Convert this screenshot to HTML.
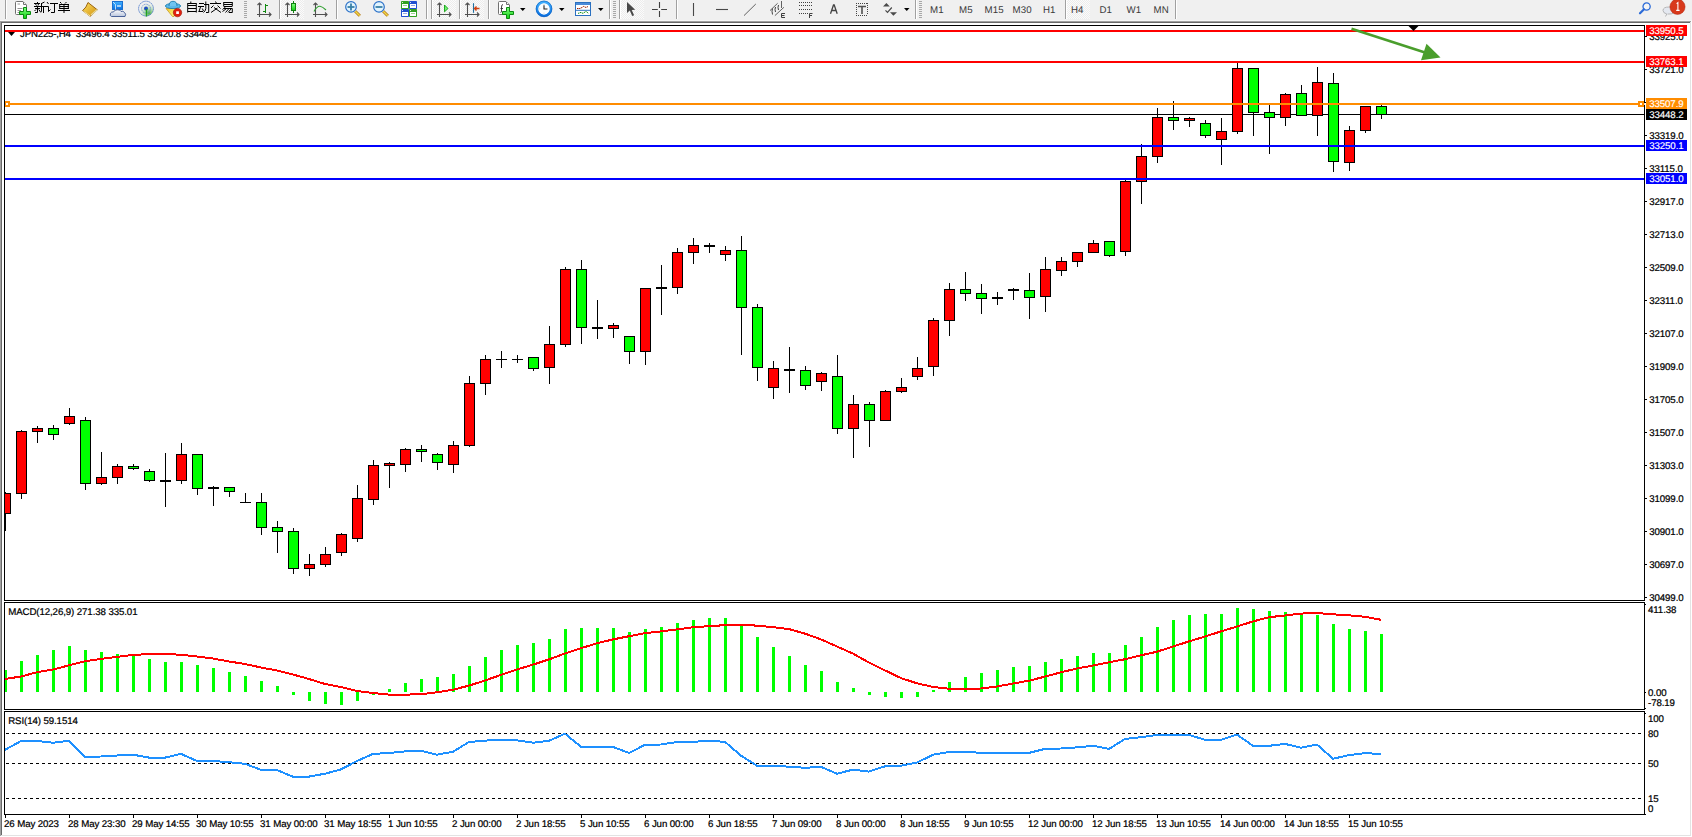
<!DOCTYPE html>
<html><head><meta charset="utf-8"><style>
html,body{margin:0;padding:0;background:#fff;}
body{width:1692px;height:837px;position:relative;overflow:hidden;font-family:"Liberation Sans",sans-serif;}
text{font-family:"Liberation Sans",sans-serif;}
svg text[fill="#000"]{stroke:#000;stroke-width:0.22px;}
svg text[fill="#fff"]{stroke:#fff;stroke-width:0.15px;}
</style></head><body>
<div style="position:absolute;left:0;top:0;width:1692px;height:20px;background:#f0f0f0"><div style="position:absolute;left:280px;top:0px;width:24px;height:19px;background:conic-gradient(#fbfbfb 25%,#ececec 0 50%,#fbfbfb 0 75%,#ececec 0) 0 0/2px 2px"></div><div style="position:absolute;left:432px;top:0px;width:24px;height:19px;background:conic-gradient(#fbfbfb 25%,#ececec 0 50%,#fbfbfb 0 75%,#ececec 0) 0 0/2px 2px"></div><div style="position:absolute;left:460px;top:0px;width:24px;height:19px;background:conic-gradient(#fbfbfb 25%,#ececec 0 50%,#fbfbfb 0 75%,#ececec 0) 0 0/2px 2px"></div><div style="position:absolute;left:620px;top:0px;width:24px;height:19px;background:conic-gradient(#fbfbfb 25%,#ececec 0 50%,#fbfbfb 0 75%,#ececec 0) 0 0/2px 2px"></div><div style="position:absolute;left:1066px;top:0px;width:24px;height:19px;background:conic-gradient(#fbfbfb 25%,#ececec 0 50%,#fbfbfb 0 75%,#ececec 0) 0 0/2px 2px"></div><div style="position:absolute;left:5px;top:0px;width:1px;height:19px;background:#a0a0a0;box-shadow:1px 0 0 #fff"></div><div style="position:absolute;left:244px;top:1px;width:3px;height:17px;background:repeating-linear-gradient(#a8a8a8 0 1px,transparent 1px 2px)"></div><div style="position:absolute;left:279px;top:0px;width:1px;height:19px;background:#a0a0a0;box-shadow:1px 0 0 #fff"></div><div style="position:absolute;left:336px;top:0px;width:1px;height:19px;background:#a0a0a0;box-shadow:1px 0 0 #fff"></div><div style="position:absolute;left:426px;top:0px;width:1px;height:19px;background:#a0a0a0;box-shadow:1px 0 0 #fff"></div><div style="position:absolute;left:431px;top:0px;width:1px;height:19px;background:#a0a0a0;box-shadow:1px 0 0 #fff"></div><div style="position:absolute;left:459px;top:0px;width:1px;height:19px;background:#a0a0a0;box-shadow:1px 0 0 #fff"></div><div style="position:absolute;left:488px;top:0px;width:1px;height:19px;background:#a0a0a0;box-shadow:1px 0 0 #fff"></div><div style="position:absolute;left:609px;top:0px;width:1px;height:19px;background:#a0a0a0;box-shadow:1px 0 0 #fff"></div><div style="position:absolute;left:613px;top:1px;width:3px;height:17px;background:repeating-linear-gradient(#a8a8a8 0 1px,transparent 1px 2px)"></div><div style="position:absolute;left:619px;top:0px;width:1px;height:19px;background:#a0a0a0;box-shadow:1px 0 0 #fff"></div><div style="position:absolute;left:676px;top:0px;width:1px;height:19px;background:#a0a0a0;box-shadow:1px 0 0 #fff"></div><div style="position:absolute;left:915px;top:0px;width:1px;height:19px;background:#a0a0a0;box-shadow:1px 0 0 #fff"></div><div style="position:absolute;left:919px;top:1px;width:3px;height:17px;background:repeating-linear-gradient(#a8a8a8 0 1px,transparent 1px 2px)"></div><div style="position:absolute;left:1065px;top:0px;width:1px;height:19px;background:#a0a0a0;box-shadow:1px 0 0 #fff"></div><div style="position:absolute;left:1175px;top:0px;width:1px;height:19px;background:#a0a0a0;box-shadow:1px 0 0 #fff"></div><svg width="1692" height="20" style="position:absolute;left:0;top:0" text-rendering="geometricPrecision"><defs><linearGradient id="gplus" x1="0" y1="0" x2="0" y2="1"><stop offset="0" stop-color="#80ff80"/><stop offset="1" stop-color="#10d010"/></linearGradient><linearGradient id="ggold" x1="0" y1="0" x2="1" y2="1"><stop offset="0" stop-color="#ffe060"/><stop offset="1" stop-color="#d09010"/></linearGradient><linearGradient id="gcloud" x1="0" y1="0" x2="0" y2="1"><stop offset="0" stop-color="#ffffff"/><stop offset="1" stop-color="#b8c4dc"/></linearGradient><linearGradient id="gblue" x1="0" y1="0" x2="0" y2="1"><stop offset="0" stop-color="#40b0ff"/><stop offset="1" stop-color="#0a70e0"/></linearGradient><linearGradient id="gcone" x1="0" y1="0" x2="1" y2="1"><stop offset="0" stop-color="#f0c830"/><stop offset="1" stop-color="#ffff90"/></linearGradient><radialGradient id="gsig" cx="0.7" cy="0.8" r="0.7"><stop offset="0" stop-color="#40b040"/><stop offset="1" stop-color="#e8f0e8" stop-opacity="0"/></radialGradient></defs><path d="M16.5 1.5 H23 L26.5 5 V13.5 Q26.5 14.5 25.5 14.5 H16.5 Q15.5 14.5 15.5 13.5 V2.5 Q15.5 1.5 16.5 1.5Z" fill="#fff" stroke="#707070"/><path d="M23.5 2 V4.5 H26" fill="#fff" stroke="#707070"/><path d="M17.5 4 H20 M17.5 8.5 H22.5 M17.5 10.5 H21 M17.5 12.5 H20" stroke="#8a8a8a" stroke-width="0.9"/><path d="M23.5 7.5 h3 v4 h4 v3 h-4 v4 h-3 v-4 h-4 v-3 h4 z" fill="url(#gplus)" stroke="#0a8a10"/><path d="M34 3.5H40M37.5 2V3M35.5 4L36.5 5.5M38.5 4L38 5.5M34 6.5H41M35 8.5H40M37.5 6.5V12.5H35M36 9.5L34.5 11M38.8 9.5L40.5 12M44.5 2L41.5 3.5M41.5 3V11L40.8 12.5M41 6.5H46M43.5 6.5V13M47 2L48.5 4M46 6.5H48.5V11.5M48.5 11.5L50.5 9.5M50 3.5H58M54.5 3.5V12.5H51M60 2L61.5 3.5M66.5 2L65 3.5M59.7 4V9M68.3 4V9M59.5 4.5H69M59.5 6.5H69M59.5 8.5H69M64 4V13M58 10.5H70" stroke="#000" stroke-width="1" fill="none"/><path d="M88 2.5 L97.3 9.8 L90.2 16.3 L82.6 10.6 Q86.5 7.5 88 2.5Z" fill="url(#ggold)" stroke="#9a6410" stroke-width="1"/><path d="M83.5 11.3 L90.3 16" stroke="#f8e8a0" stroke-width="1"/><path d="M91 15 L97 9.7" stroke="#e8dca0" stroke-width="1.2"/><rect x="112.5" y="1.5" width="10" height="8" fill="url(#gblue)" stroke="#1a70d0"/><path d="M113 2 L115.5 4.5 V10" stroke="#e0f4ff" stroke-width="0.8" fill="none"/><path d="M117 6 h4" stroke="#fff" stroke-width="1.2"/><path d="M111.5 16.5 Q109.5 16 110.5 13.2 Q111.5 11.5 113.5 12 Q114.5 9.5 117.5 9.8 Q120 9.5 121 11.5 Q123 10.5 124.5 12.5 Q126.5 14 125 16.5 Z" fill="url(#gcloud)" stroke="#3a5590" stroke-width="0.9"/><circle cx="146" cy="8.6" r="7.6" fill="url(#gsig)"/><circle cx="146" cy="8.6" r="7.4" fill="none" stroke="#4070c8" stroke-width="1" stroke-dasharray="1.2,0.8"/><circle cx="146" cy="8.6" r="4.4" fill="none" stroke="#6088d0" stroke-width="1" stroke-dasharray="1,0.8"/><circle cx="146" cy="8.6" r="2" fill="#2050c0"/><path d="M146.5 9 V16.5" stroke="#20a020" stroke-width="1.3"/><path d="M166 8.5 L176.5 8.5 L174 16.5 L172.5 16.5 Z" fill="url(#gcone)" stroke="#c89a20" stroke-width="0.8"/><ellipse cx="173" cy="6" rx="7.6" ry="2.6" fill="#5ab8ea" stroke="#1f7fb0" stroke-width="0.9"/><path d="M169 6 Q169 1.3 173 1.3 Q177 1.3 177 6" fill="#70c4f0" stroke="#1f7fb0" stroke-width="0.9"/><circle cx="177.5" cy="12.6" r="4.2" fill="#e02010" stroke="#a01000" stroke-width="0.6"/><rect x="176.2" y="11.3" width="2.7" height="2.7" fill="#fff"/><path d="M190.8 1.5V3M187.7 3V12.5M196.3 3V12.5M188 3.5H196M188 5.5H196M188 8.5H196M188 11.5H196M199 3.5H204M198 6.5H204M200.5 7L199 11.5M198.5 11.5H203M202.3 8.5L203.5 11M205.8 1.5V8.5Q205.5 11 203.5 12.5M204 4.5H209M208.7 4.5V12.5H206M215.5 1.5L216.3 3M210 3.5H221M213.5 5.5L211 8M217.5 5.5L220.5 8.5M217.5 8L211 12.5M214 7.5L221 12.5M223.7 2V6.5M232.3 2V6.5M224 2.5H232M224 4.5H232M224 6.5H232M225.5 7L222.5 9.5M224 8.5H232.3V12.5H229M226.5 8.5L222.5 11.5M229 8.5L225.5 12.5M231 9L228 12.5" stroke="#000" stroke-width="1" fill="none"/><path d="M259.5 3 V17 M257 14.5 H271 M257.5 5 L259.5 3 L261.5 5 M269 12.5 L271 14.5 L269 16.5" stroke="#505050" stroke-width="1.1" fill="none"/><path d="M287.5 3 V17 M285 14.5 H299 M285.5 5 L287.5 3 L289.5 5 M297 12.5 L299 14.5 L297 16.5" stroke="#505050" stroke-width="1.1" fill="none"/><path d="M315.5 3 V17 M313 14.5 H327 M313.5 5 L315.5 3 L317.5 5 M325 12.5 L327 14.5 L325 16.5" stroke="#505050" stroke-width="1.1" fill="none"/><path d="M439.5 3 V17 M437 14.5 H451 M437.5 5 L439.5 3 L441.5 5 M449 12.5 L451 14.5 L449 16.5" stroke="#505050" stroke-width="1.1" fill="none"/><path d="M467.5 3 V17 M465 14.5 H479 M465.5 5 L467.5 3 L469.5 5 M477 12.5 L479 14.5 L477 16.5" stroke="#505050" stroke-width="1.1" fill="none"/><path d="M265.5 4 V13 M265.5 5.5 H268 M263 11.5 H265.5" stroke="#108a10" stroke-width="1" fill="none"/><path d="M293.5 1 V13" stroke="#108010"/><rect x="291.5" y="3.5" width="4" height="7" fill="url(#gplus)" stroke="#108010"/><path d="M314 11.5 Q317 6 320 6.3 Q322.5 6.6 326 10" stroke="#30a030" stroke-width="1.1" fill="none"/><path d="M444.5 5 L448 8.5 L444.5 11.8 Z" fill="#70f070" stroke="#10a010" stroke-width="0.9"/><path d="M473.5 3.2 V12.8" stroke="#2070a0" stroke-width="1.1"/><path d="M474.5 8.5 H479.5 M476.5 6.5 L474.5 8.5 L476.5 10.5" stroke="#d04010" stroke-width="1.4" fill="none"/><path d="M355.2 11.2 L359.8 15.8" stroke="#b07010" stroke-width="3"/><path d="M355.2 11.2 L359.8 15.8" stroke="#f0d848" stroke-width="1.6"/><circle cx="351" cy="6.9" r="5.3" fill="#e2f4fd" stroke="#2a70c8" stroke-width="1.2"/><path d="M347.5 7 h7" stroke="#3a80a8" stroke-width="1.8"/><path d="M351 3.5 v7" stroke="#3a80a8" stroke-width="1.8"/><path d="M383.2 11.2 L387.8 15.8" stroke="#b07010" stroke-width="3"/><path d="M383.2 11.2 L387.8 15.8" stroke="#f0d848" stroke-width="1.6"/><circle cx="379" cy="6.9" r="5.3" fill="#e2f4fd" stroke="#2a70c8" stroke-width="1.2"/><path d="M375.5 7 h7" stroke="#3a80a8" stroke-width="1.8"/><rect x="401" y="1" width="8" height="8" rx="0.8" fill="#30a020"/><rect x="402" y="4" width="6" height="4" fill="#fff"/><path d="M403 5.5 h4" stroke="#30a020" stroke-width="0.8" opacity="0.6"/><rect x="402" y="2" width="1" height="1" fill="#fff" opacity="0.8"/><rect x="409" y="1" width="8" height="8" rx="0.8" fill="#2050d0"/><rect x="410" y="4" width="6" height="4" fill="#fff"/><path d="M411 5.5 h4" stroke="#2050d0" stroke-width="0.8" opacity="0.6"/><rect x="410" y="2" width="1" height="1" fill="#fff" opacity="0.8"/><rect x="401" y="9" width="8" height="8" rx="0.8" fill="#2050d0"/><rect x="402" y="12" width="6" height="4" fill="#fff"/><path d="M403 13.5 h4" stroke="#2050d0" stroke-width="0.8" opacity="0.6"/><rect x="402" y="10" width="1" height="1" fill="#fff" opacity="0.8"/><rect x="409" y="9" width="8" height="8" rx="0.8" fill="#30a020"/><rect x="410" y="12" width="6" height="4" fill="#fff"/><path d="M411 13.5 h4" stroke="#30a020" stroke-width="0.8" opacity="0.6"/><rect x="410" y="10" width="1" height="1" fill="#fff" opacity="0.8"/><path d="M499.5 1.5 H506 L509.5 5 V13.5 Q509.5 14.5 508.5 14.5 H499.5 Q498.5 14.5 498.5 13.5 V2.5 Q498.5 1.5 499.5 1.5Z" fill="#fff" stroke="#707070"/><path d="M506.5 2 V4.5 H509" fill="#fff" stroke="#707070"/><path d="M503 4.5 Q501.5 4.5 501.5 7 V11 Q501.5 12.5 500.5 12.5 M500.5 8.5 H503" stroke="#303030" fill="none" stroke-width="0.9"/><path d="M506.5 7.5 h3 v4 h4 v3 h-4 v4 h-3 v-4 h-4 v-3 h4 z" fill="url(#gplus)" stroke="#0a8a10"/><path d="M520 8 h5.5 l-2.75 3z" fill="#000"/><path d="M559 8 h5.5 l-2.75 3z" fill="#000"/><path d="M598 8 h5.5 l-2.75 3z" fill="#000"/><path d="M904 8 h5.5 l-2.75 3z" fill="#000"/><circle cx="544" cy="8.9" r="6.9" fill="none" stroke="url(#gblue)" stroke-width="2.6"/><circle cx="544" cy="8.9" r="7.9" fill="none" stroke="#0a5ab8" stroke-width="0.6"/><circle cx="544" cy="8.9" r="5.5" fill="#fafdff"/><path d="M544 5.3 V9 H547.3" stroke="#202020" stroke-width="1.1" fill="none"/><path d="M544 4v0.6M548 8.9h-0.6M544 13.4v-0.6M539.5 8.9h0.6" stroke="#888" stroke-width="0.7"/><rect x="575.5" y="2.5" width="15" height="13" fill="#fff" stroke="#2a70c0"/><rect x="576" y="3" width="14" height="2" fill="#4a8ad8"/><path d="M576 10.3 h14" stroke="#2a70c0"/><path d="M577 8.5 L580 8.5 L582.5 7.2 L583.7 6.4 L586 7.5 L588 6.5" stroke="#a02000" stroke-width="1" fill="none" stroke-dasharray="1.5,0.6"/><path d="M578 13.4 L581 12.4 L583 13.4 L586 11.3 L588.5 13.4" stroke="#109010" stroke-width="1" fill="none" stroke-dasharray="1.5,0.6"/><path d="M627 2 L627 13 L629.8 10.6 L632.2 16 L634.1 15.2 L631.7 10 L635.2 9.7 Z" fill="#484848"/><path d="M652 9.5 H657.8 M661.2 9.5 H667 M659.5 2 V8 M659.5 11 V17" stroke="#404040" stroke-width="1.1"/><path d="M693.5 3 V16" stroke="#484848" stroke-width="1.1"/><path d="M716 9.5 H728" stroke="#484848" stroke-width="1.1"/><path d="M744 15.6 L755.8 4" stroke="#505050" stroke-width="0.9"/><path d="M770 10.6 L777.6 3.3 M774.9 15.6 L783.9 7.3 M781.5 1 V8" stroke="#505050" stroke-width="0.9" fill="none"/><path d="M772.5 8.5 Q771.5 11 772.5 14.5 M775.5 7 Q774.5 9.5 775.5 12 M778.5 5 Q777.5 7.5 778.5 10" stroke="#404040" stroke-width="1" fill="none"/><path d="M785 13.5 H781.5 V17.5 H785 M781.5 15.5 H784.5" stroke="#404040" stroke-width="1" fill="none"/><rect x="799" y="2.0" width="1" height="1" fill="#404040"/><rect x="801" y="2.0" width="1" height="1" fill="#404040"/><rect x="803" y="2.0" width="1" height="1" fill="#404040"/><rect x="805" y="2.0" width="1" height="1" fill="#404040"/><rect x="807" y="2.0" width="1" height="1" fill="#404040"/><rect x="809" y="2.0" width="1" height="1" fill="#404040"/><rect x="811" y="2.0" width="1" height="1" fill="#404040"/><rect x="799" y="5.0" width="1" height="1" fill="#404040"/><rect x="801" y="5.0" width="1" height="1" fill="#404040"/><rect x="803" y="5.0" width="1" height="1" fill="#404040"/><rect x="805" y="5.0" width="1" height="1" fill="#404040"/><rect x="807" y="5.0" width="1" height="1" fill="#404040"/><rect x="809" y="5.0" width="1" height="1" fill="#404040"/><rect x="811" y="5.0" width="1" height="1" fill="#404040"/><rect x="799" y="9.0" width="1" height="1" fill="#404040"/><rect x="801" y="9.0" width="1" height="1" fill="#404040"/><rect x="803" y="9.0" width="1" height="1" fill="#404040"/><rect x="805" y="9.0" width="1" height="1" fill="#404040"/><rect x="807" y="9.0" width="1" height="1" fill="#404040"/><rect x="809" y="9.0" width="1" height="1" fill="#404040"/><rect x="811" y="9.0" width="1" height="1" fill="#404040"/><rect x="799" y="13.0" width="1" height="1" fill="#404040"/><rect x="801" y="13.0" width="1" height="1" fill="#404040"/><rect x="803" y="13.0" width="1" height="1" fill="#404040"/><rect x="805" y="13.0" width="1" height="1" fill="#404040"/><rect x="807" y="13.0" width="1" height="1" fill="#404040"/><path d="M812.5 13.5 H809.5 V18 M809.5 15.5 H812" stroke="#404040" stroke-width="1" fill="none"/><path d="M830.5 13.8 L833.5 5 L834.2 5 L837.2 13.8 M831.8 10.5 H836" stroke="#444" stroke-width="1.3" fill="none"/><rect x="856" y="3" width="1" height="1" fill="#444"/><rect x="856" y="15" width="1" height="1" fill="#444"/><rect x="856" y="3" width="1" height="1" fill="#444"/><rect x="867" y="3" width="1" height="1" fill="#444"/><rect x="858" y="3" width="1" height="1" fill="#444"/><rect x="858" y="15" width="1" height="1" fill="#444"/><rect x="856" y="5" width="1" height="1" fill="#444"/><rect x="867" y="5" width="1" height="1" fill="#444"/><rect x="860" y="3" width="1" height="1" fill="#444"/><rect x="860" y="15" width="1" height="1" fill="#444"/><rect x="856" y="7" width="1" height="1" fill="#444"/><rect x="867" y="7" width="1" height="1" fill="#444"/><rect x="862" y="3" width="1" height="1" fill="#444"/><rect x="862" y="15" width="1" height="1" fill="#444"/><rect x="856" y="9" width="1" height="1" fill="#444"/><rect x="867" y="9" width="1" height="1" fill="#444"/><rect x="864" y="3" width="1" height="1" fill="#444"/><rect x="864" y="15" width="1" height="1" fill="#444"/><rect x="856" y="11" width="1" height="1" fill="#444"/><rect x="867" y="11" width="1" height="1" fill="#444"/><rect x="866" y="3" width="1" height="1" fill="#444"/><rect x="866" y="15" width="1" height="1" fill="#444"/><rect x="856" y="13" width="1" height="1" fill="#444"/><rect x="867" y="13" width="1" height="1" fill="#444"/><path d="M858 6.5 H866 M862 6.5 V14" stroke="#505050" stroke-width="1.6" fill="none"/><path d="M883 6.5 L886.4 3.1 L889.8 6.5 Z M890 12.3 L897 12.3 L893.4 15.8 Z" fill="#4a4a4a"/><path d="M885.5 10.3 L887.5 12.3 L891.8 7.5" stroke="#4a4a4a" stroke-width="1.2" fill="none"/><text x="930" y="13" font-size="9.7" letter-spacing="0.1" fill="#3a3a3a" font-family="'Liberation Sans', sans-serif">M1</text><text x="959" y="13" font-size="9.7" letter-spacing="0.1" fill="#3a3a3a" font-family="'Liberation Sans', sans-serif">M5</text><text x="984.5" y="13" font-size="9.7" letter-spacing="0.1" fill="#3a3a3a" font-family="'Liberation Sans', sans-serif">M15</text><text x="1012.5" y="13" font-size="9.7" letter-spacing="0.1" fill="#3a3a3a" font-family="'Liberation Sans', sans-serif">M30</text><text x="1043" y="13" font-size="9.7" letter-spacing="0.1" fill="#3a3a3a" font-family="'Liberation Sans', sans-serif">H1</text><text x="1071" y="13" font-size="9.7" letter-spacing="0.1" fill="#3a3a3a" font-family="'Liberation Sans', sans-serif">H4</text><text x="1099.5" y="13" font-size="9.7" letter-spacing="0.1" fill="#3a3a3a" font-family="'Liberation Sans', sans-serif">D1</text><text x="1126.5" y="13" font-size="9.7" letter-spacing="0.1" fill="#3a3a3a" font-family="'Liberation Sans', sans-serif">W1</text><text x="1153.5" y="13" font-size="9.7" letter-spacing="0.1" fill="#3a3a3a" font-family="'Liberation Sans', sans-serif">MN</text><circle cx="1646.6" cy="6.5" r="3.6" fill="#fff" fill-opacity="0.3" stroke="#2a6ad8" stroke-width="1.3"/><path d="M1644 9.3 l-4 4" stroke="#2a6ad8" stroke-width="2.2" stroke-linecap="round"/><path d="M1665.5 16.5 L1666.8 14 Q1663 13 1663 10.5 Q1663 7 1669 7 Q1675 7 1675 10.5 Q1675 14 1669 14 L1667.5 14" fill="#e4e8f0" stroke="#a8a8a8" stroke-width="0.8"/><circle cx="1677.5" cy="6.8" r="7.6" fill="#d8391c"/><circle cx="1677.5" cy="6.8" r="7.6" fill="none" stroke="#b02810" stroke-width="0.5"/><path d="M1676.6 3.6 L1677.9 2.6 V10.4 M1676.2 10.4 H1679.6" stroke="#fff" stroke-width="1.1" fill="none"/></svg></div>
<div style="position:absolute;left:0;top:20px;width:1692px;height:1px;background:#f7f7f7"></div><div style="position:absolute;left:0;top:21px;width:1691px;height:1px;background:#a0a0a0"></div><div style="position:absolute;left:1px;top:22px;width:1689px;height:1px;background:#696969"></div><div style="position:absolute;left:0;top:21px;width:1px;height:815px;background:#a0a0a0"></div><div style="position:absolute;left:1px;top:22px;width:1px;height:813px;background:#696969"></div><div style="position:absolute;left:1690px;top:22px;width:1px;height:814px;background:#e3e3e3"></div><div style="position:absolute;left:1px;top:835px;width:1690px;height:1px;background:#e3e3e3"></div><div style="position:absolute;left:2px;top:23px;width:1688px;height:812px;background:#fff"></div>
<svg width="1692" height="837" viewBox="0 0 1692 837" text-rendering="geometricPrecision" style="position:absolute;left:0;top:0"><defs><clipPath id="cm"><rect x="5" y="26" width="1639" height="574"/></clipPath><clipPath id="cmacd"><rect x="5" y="603" width="1639" height="106"/></clipPath><clipPath id="crsi"><rect x="5" y="712" width="1639" height="102"/></clipPath></defs><polygon points="8,32 15,32 11.5,36" fill="#000"/><text x="20" y="37" font-size="9.7" letter-spacing="-0.2" font-family="'Liberation Sans', sans-serif" fill="#000" xml:space="preserve">JPN225-,H4  33496.4 33511.5 33420.8 33448.2</text><g clip-path="url(#cm)" shape-rendering="crispEdges"><rect x="5" y="30" width="1639" height="2" fill="#ff0000"/><rect x="5" y="61" width="1639" height="2" fill="#ff0000"/><rect x="5" y="114" width="1639" height="1" fill="#000"/><rect x="5" y="492" width="1" height="39" fill="#000"/><rect x="0" y="493" width="11" height="21" fill="#000"/><rect x="1" y="494" width="9" height="19" fill="#ff0000"/><rect x="21" y="430" width="1" height="69" fill="#000"/><rect x="16" y="431" width="11" height="63" fill="#000"/><rect x="17" y="432" width="9" height="61" fill="#ff0000"/><rect x="37" y="426" width="1" height="17" fill="#000"/><rect x="32" y="428" width="11" height="4" fill="#000"/><rect x="33" y="429" width="9" height="2" fill="#ff0000"/><rect x="53" y="425" width="1" height="15" fill="#000"/><rect x="48" y="428" width="11" height="7" fill="#000"/><rect x="49" y="429" width="9" height="5" fill="#00ff00"/><rect x="69" y="408" width="1" height="17" fill="#000"/><rect x="64" y="416" width="11" height="8" fill="#000"/><rect x="65" y="417" width="9" height="6" fill="#ff0000"/><rect x="85" y="417" width="1" height="73" fill="#000"/><rect x="80" y="420" width="11" height="64" fill="#000"/><rect x="81" y="421" width="9" height="62" fill="#00ff00"/><rect x="101" y="452" width="1" height="33" fill="#000"/><rect x="96" y="477" width="11" height="7" fill="#000"/><rect x="97" y="478" width="9" height="5" fill="#ff0000"/><rect x="117" y="464" width="1" height="20" fill="#000"/><rect x="112" y="466" width="11" height="12" fill="#000"/><rect x="113" y="467" width="9" height="10" fill="#ff0000"/><rect x="133" y="464" width="1" height="6" fill="#000"/><rect x="128" y="466" width="11" height="3" fill="#000"/><rect x="129" y="467" width="9" height="1" fill="#00ff00"/><rect x="149" y="469" width="1" height="13" fill="#000"/><rect x="144" y="471" width="11" height="10" fill="#000"/><rect x="145" y="472" width="9" height="8" fill="#00ff00"/><rect x="165" y="453" width="1" height="54" fill="#000"/><rect x="160" y="480" width="11" height="2" fill="#000"/><rect x="181" y="443" width="1" height="41" fill="#000"/><rect x="176" y="454" width="11" height="27" fill="#000"/><rect x="177" y="455" width="9" height="25" fill="#ff0000"/><rect x="197" y="454" width="1" height="41" fill="#000"/><rect x="192" y="454" width="11" height="35" fill="#000"/><rect x="193" y="455" width="9" height="33" fill="#00ff00"/><rect x="213" y="486" width="1" height="20" fill="#000"/><rect x="208" y="487" width="11" height="2" fill="#000"/><rect x="229" y="487" width="1" height="10" fill="#000"/><rect x="224" y="487" width="11" height="5" fill="#000"/><rect x="225" y="488" width="9" height="3" fill="#00ff00"/><rect x="245" y="493" width="1" height="10" fill="#000"/><rect x="240" y="502" width="11" height="1" fill="#000"/><rect x="261" y="493" width="1" height="42" fill="#000"/><rect x="256" y="502" width="11" height="26" fill="#000"/><rect x="257" y="503" width="9" height="24" fill="#00ff00"/><rect x="277" y="521" width="1" height="32" fill="#000"/><rect x="272" y="527" width="11" height="5" fill="#000"/><rect x="273" y="528" width="9" height="3" fill="#00ff00"/><rect x="293" y="528" width="1" height="46" fill="#000"/><rect x="288" y="531" width="11" height="38" fill="#000"/><rect x="289" y="532" width="9" height="36" fill="#00ff00"/><rect x="309" y="554" width="1" height="22" fill="#000"/><rect x="304" y="564" width="11" height="5" fill="#000"/><rect x="305" y="565" width="9" height="3" fill="#ff0000"/><rect x="325" y="547" width="1" height="20" fill="#000"/><rect x="320" y="554" width="11" height="11" fill="#000"/><rect x="321" y="555" width="9" height="9" fill="#ff0000"/><rect x="341" y="533" width="1" height="23" fill="#000"/><rect x="336" y="534" width="11" height="19" fill="#000"/><rect x="337" y="535" width="9" height="17" fill="#ff0000"/><rect x="357" y="485" width="1" height="57" fill="#000"/><rect x="352" y="498" width="11" height="41" fill="#000"/><rect x="353" y="499" width="9" height="39" fill="#ff0000"/><rect x="373" y="460" width="1" height="45" fill="#000"/><rect x="368" y="465" width="11" height="35" fill="#000"/><rect x="369" y="466" width="9" height="33" fill="#ff0000"/><rect x="389" y="462" width="1" height="26" fill="#000"/><rect x="384" y="463" width="11" height="3" fill="#000"/><rect x="385" y="464" width="9" height="1" fill="#ff0000"/><rect x="405" y="448" width="1" height="24" fill="#000"/><rect x="400" y="449" width="11" height="16" fill="#000"/><rect x="401" y="450" width="9" height="14" fill="#ff0000"/><rect x="421" y="445" width="1" height="17" fill="#000"/><rect x="416" y="449" width="11" height="3" fill="#000"/><rect x="417" y="450" width="9" height="1" fill="#00ff00"/><rect x="437" y="453" width="1" height="17" fill="#000"/><rect x="432" y="454" width="11" height="9" fill="#000"/><rect x="433" y="455" width="9" height="7" fill="#00ff00"/><rect x="453" y="441" width="1" height="32" fill="#000"/><rect x="448" y="445" width="11" height="20" fill="#000"/><rect x="449" y="446" width="9" height="18" fill="#ff0000"/><rect x="469" y="376" width="1" height="71" fill="#000"/><rect x="464" y="383" width="11" height="63" fill="#000"/><rect x="465" y="384" width="9" height="61" fill="#ff0000"/><rect x="485" y="355" width="1" height="40" fill="#000"/><rect x="480" y="359" width="11" height="25" fill="#000"/><rect x="481" y="360" width="9" height="23" fill="#ff0000"/><rect x="501" y="351" width="1" height="17" fill="#000"/><rect x="496" y="359" width="11" height="1" fill="#000"/><rect x="517" y="355" width="1" height="8" fill="#000"/><rect x="512" y="359" width="11" height="1" fill="#000"/><rect x="533" y="357" width="1" height="14" fill="#000"/><rect x="528" y="357" width="11" height="12" fill="#000"/><rect x="529" y="358" width="9" height="10" fill="#00ff00"/><rect x="549" y="326" width="1" height="58" fill="#000"/><rect x="544" y="344" width="11" height="24" fill="#000"/><rect x="545" y="345" width="9" height="22" fill="#ff0000"/><rect x="565" y="267" width="1" height="80" fill="#000"/><rect x="560" y="269" width="11" height="76" fill="#000"/><rect x="561" y="270" width="9" height="74" fill="#ff0000"/><rect x="581" y="260" width="1" height="84" fill="#000"/><rect x="576" y="269" width="11" height="59" fill="#000"/><rect x="577" y="270" width="9" height="57" fill="#00ff00"/><rect x="597" y="300" width="1" height="39" fill="#000"/><rect x="592" y="327" width="11" height="2" fill="#000"/><rect x="613" y="323" width="1" height="15" fill="#000"/><rect x="608" y="325" width="11" height="4" fill="#000"/><rect x="609" y="326" width="9" height="2" fill="#ff0000"/><rect x="629" y="336" width="1" height="28" fill="#000"/><rect x="624" y="336" width="11" height="16" fill="#000"/><rect x="625" y="337" width="9" height="14" fill="#00ff00"/><rect x="645" y="288" width="1" height="77" fill="#000"/><rect x="640" y="288" width="11" height="64" fill="#000"/><rect x="641" y="289" width="9" height="62" fill="#ff0000"/><rect x="661" y="265" width="1" height="50" fill="#000"/><rect x="656" y="287" width="11" height="2" fill="#000"/><rect x="677" y="248" width="1" height="46" fill="#000"/><rect x="672" y="252" width="11" height="36" fill="#000"/><rect x="673" y="253" width="9" height="34" fill="#ff0000"/><rect x="693" y="238" width="1" height="26" fill="#000"/><rect x="688" y="245" width="11" height="8" fill="#000"/><rect x="689" y="246" width="9" height="6" fill="#ff0000"/><rect x="709" y="243" width="1" height="10" fill="#000"/><rect x="704" y="245" width="11" height="2" fill="#000"/><rect x="725" y="246" width="1" height="15" fill="#000"/><rect x="720" y="250" width="11" height="5" fill="#000"/><rect x="721" y="251" width="9" height="3" fill="#ff0000"/><rect x="741" y="236" width="1" height="119" fill="#000"/><rect x="736" y="250" width="11" height="58" fill="#000"/><rect x="737" y="251" width="9" height="56" fill="#00ff00"/><rect x="757" y="304" width="1" height="77" fill="#000"/><rect x="752" y="307" width="11" height="61" fill="#000"/><rect x="753" y="308" width="9" height="59" fill="#00ff00"/><rect x="773" y="361" width="1" height="38" fill="#000"/><rect x="768" y="368" width="11" height="20" fill="#000"/><rect x="769" y="369" width="9" height="18" fill="#ff0000"/><rect x="789" y="347" width="1" height="46" fill="#000"/><rect x="784" y="369" width="11" height="2" fill="#000"/><rect x="805" y="366" width="1" height="24" fill="#000"/><rect x="800" y="370" width="11" height="16" fill="#000"/><rect x="801" y="371" width="9" height="14" fill="#00ff00"/><rect x="821" y="372" width="1" height="19" fill="#000"/><rect x="816" y="373" width="11" height="9" fill="#000"/><rect x="817" y="374" width="9" height="7" fill="#ff0000"/><rect x="837" y="355" width="1" height="79" fill="#000"/><rect x="832" y="376" width="11" height="53" fill="#000"/><rect x="833" y="377" width="9" height="51" fill="#00ff00"/><rect x="853" y="395" width="1" height="63" fill="#000"/><rect x="848" y="404" width="11" height="25" fill="#000"/><rect x="849" y="405" width="9" height="23" fill="#ff0000"/><rect x="869" y="402" width="1" height="45" fill="#000"/><rect x="864" y="404" width="11" height="17" fill="#000"/><rect x="865" y="405" width="9" height="15" fill="#00ff00"/><rect x="885" y="390" width="1" height="31" fill="#000"/><rect x="880" y="391" width="11" height="30" fill="#000"/><rect x="881" y="392" width="9" height="28" fill="#ff0000"/><rect x="901" y="378" width="1" height="15" fill="#000"/><rect x="896" y="387" width="11" height="5" fill="#000"/><rect x="897" y="388" width="9" height="3" fill="#ff0000"/><rect x="917" y="357" width="1" height="23" fill="#000"/><rect x="912" y="368" width="11" height="9" fill="#000"/><rect x="913" y="369" width="9" height="7" fill="#ff0000"/><rect x="933" y="318" width="1" height="58" fill="#000"/><rect x="928" y="320" width="11" height="47" fill="#000"/><rect x="929" y="321" width="9" height="45" fill="#ff0000"/><rect x="949" y="283" width="1" height="53" fill="#000"/><rect x="944" y="289" width="11" height="32" fill="#000"/><rect x="945" y="290" width="9" height="30" fill="#ff0000"/><rect x="965" y="272" width="1" height="29" fill="#000"/><rect x="960" y="289" width="11" height="5" fill="#000"/><rect x="961" y="290" width="9" height="3" fill="#00ff00"/><rect x="981" y="284" width="1" height="30" fill="#000"/><rect x="976" y="293" width="11" height="6" fill="#000"/><rect x="977" y="294" width="9" height="4" fill="#00ff00"/><rect x="997" y="292" width="1" height="13" fill="#000"/><rect x="992" y="297" width="11" height="2" fill="#000"/><rect x="1013" y="288" width="1" height="12" fill="#000"/><rect x="1008" y="289" width="11" height="2" fill="#000"/><rect x="1029" y="273" width="1" height="46" fill="#000"/><rect x="1024" y="290" width="11" height="8" fill="#000"/><rect x="1025" y="291" width="9" height="6" fill="#00ff00"/><rect x="1045" y="257" width="1" height="55" fill="#000"/><rect x="1040" y="269" width="11" height="28" fill="#000"/><rect x="1041" y="270" width="9" height="26" fill="#ff0000"/><rect x="1061" y="257" width="1" height="19" fill="#000"/><rect x="1056" y="261" width="11" height="10" fill="#000"/><rect x="1057" y="262" width="9" height="8" fill="#ff0000"/><rect x="1077" y="252" width="1" height="15" fill="#000"/><rect x="1072" y="252" width="11" height="10" fill="#000"/><rect x="1073" y="253" width="9" height="8" fill="#ff0000"/><rect x="1093" y="240" width="1" height="13" fill="#000"/><rect x="1088" y="243" width="11" height="10" fill="#000"/><rect x="1089" y="244" width="9" height="8" fill="#ff0000"/><rect x="1109" y="241" width="1" height="16" fill="#000"/><rect x="1104" y="241" width="11" height="15" fill="#000"/><rect x="1105" y="242" width="9" height="13" fill="#00ff00"/><rect x="1125" y="180" width="1" height="76" fill="#000"/><rect x="1120" y="181" width="11" height="71" fill="#000"/><rect x="1121" y="182" width="9" height="69" fill="#ff0000"/><rect x="1141" y="144" width="1" height="60" fill="#000"/><rect x="1136" y="156" width="11" height="26" fill="#000"/><rect x="1137" y="157" width="9" height="24" fill="#ff0000"/><rect x="1157" y="108" width="1" height="55" fill="#000"/><rect x="1152" y="117" width="11" height="40" fill="#000"/><rect x="1153" y="118" width="9" height="38" fill="#ff0000"/><rect x="1173" y="101" width="1" height="29" fill="#000"/><rect x="1168" y="117" width="11" height="4" fill="#000"/><rect x="1169" y="118" width="9" height="2" fill="#00ff00"/><rect x="1189" y="117" width="1" height="10" fill="#000"/><rect x="1184" y="118" width="11" height="3" fill="#000"/><rect x="1185" y="119" width="9" height="1" fill="#ff0000"/><rect x="1205" y="120" width="1" height="18" fill="#000"/><rect x="1200" y="123" width="11" height="13" fill="#000"/><rect x="1201" y="124" width="9" height="11" fill="#00ff00"/><rect x="1221" y="118" width="1" height="47" fill="#000"/><rect x="1216" y="131" width="11" height="9" fill="#000"/><rect x="1217" y="132" width="9" height="7" fill="#ff0000"/><rect x="1237" y="63" width="1" height="71" fill="#000"/><rect x="1232" y="68" width="11" height="64" fill="#000"/><rect x="1233" y="69" width="9" height="62" fill="#ff0000"/><rect x="1253" y="68" width="1" height="68" fill="#000"/><rect x="1248" y="68" width="11" height="45" fill="#000"/><rect x="1249" y="69" width="9" height="43" fill="#00ff00"/><rect x="1269" y="105" width="1" height="49" fill="#000"/><rect x="1264" y="112" width="11" height="6" fill="#000"/><rect x="1265" y="113" width="9" height="4" fill="#00ff00"/><rect x="1285" y="93" width="1" height="33" fill="#000"/><rect x="1280" y="94" width="11" height="24" fill="#000"/><rect x="1281" y="95" width="9" height="22" fill="#ff0000"/><rect x="1301" y="85" width="1" height="31" fill="#000"/><rect x="1296" y="93" width="11" height="23" fill="#000"/><rect x="1297" y="94" width="9" height="21" fill="#00ff00"/><rect x="1317" y="67" width="1" height="69" fill="#000"/><rect x="1312" y="82" width="11" height="34" fill="#000"/><rect x="1313" y="83" width="9" height="32" fill="#ff0000"/><rect x="1333" y="73" width="1" height="99" fill="#000"/><rect x="1328" y="83" width="11" height="79" fill="#000"/><rect x="1329" y="84" width="9" height="77" fill="#00ff00"/><rect x="1349" y="126" width="1" height="45" fill="#000"/><rect x="1344" y="130" width="11" height="33" fill="#000"/><rect x="1345" y="131" width="9" height="31" fill="#ff0000"/><rect x="1365" y="106" width="1" height="27" fill="#000"/><rect x="1360" y="106" width="11" height="25" fill="#000"/><rect x="1361" y="107" width="9" height="23" fill="#ff0000"/><rect x="1381" y="104" width="1" height="15" fill="#000"/><rect x="1376" y="106" width="11" height="9" fill="#000"/><rect x="1377" y="107" width="9" height="7" fill="#00ff00"/><rect x="5" y="103" width="1639" height="2" fill="#ff8c00"/><rect x="5" y="145" width="1639" height="2" fill="#0000ff"/><rect x="5" y="178" width="1639" height="2" fill="#0000ff"/><rect x="4" y="101" width="6" height="6" fill="#ff8c00"/><rect x="6" y="103" width="2" height="2" fill="#fff"/><rect x="1638" y="101" width="6" height="6" fill="#ff8c00"/><rect x="1640" y="103" width="2" height="2" fill="#fff"/></g><polygon points="1408.5,26 1418.5,26 1413.5,31" fill="#000"/><line x1="1351.5" y1="28.8" x2="1425" y2="52.5" stroke="#4a9e2c" stroke-width="2.6"/><polygon points="1426.5,43.7 1440.5,57.4 1421,60.3" fill="#4a9e2c"/><g clip-path="url(#cmacd)" shape-rendering="crispEdges"><rect x="4" y="670" width="3" height="22" fill="#00ff00"/><rect x="20" y="661" width="3" height="31" fill="#00ff00"/><rect x="36" y="655" width="3" height="37" fill="#00ff00"/><rect x="52" y="650" width="3" height="42" fill="#00ff00"/><rect x="68" y="646" width="3" height="46" fill="#00ff00"/><rect x="84" y="650" width="3" height="42" fill="#00ff00"/><rect x="100" y="652" width="3" height="40" fill="#00ff00"/><rect x="116" y="654" width="3" height="38" fill="#00ff00"/><rect x="132" y="656" width="3" height="36" fill="#00ff00"/><rect x="148" y="659" width="3" height="33" fill="#00ff00"/><rect x="164" y="662" width="3" height="30" fill="#00ff00"/><rect x="180" y="662" width="3" height="30" fill="#00ff00"/><rect x="196" y="665" width="3" height="27" fill="#00ff00"/><rect x="212" y="668" width="3" height="24" fill="#00ff00"/><rect x="228" y="672" width="3" height="20" fill="#00ff00"/><rect x="244" y="676" width="3" height="16" fill="#00ff00"/><rect x="260" y="681" width="3" height="11" fill="#00ff00"/><rect x="276" y="686" width="3" height="6" fill="#00ff00"/><rect x="292" y="692" width="3" height="3" fill="#00ff00"/><rect x="308" y="692" width="3" height="9" fill="#00ff00"/><rect x="324" y="692" width="3" height="12" fill="#00ff00"/><rect x="340" y="692" width="3" height="13" fill="#00ff00"/><rect x="356" y="692" width="3" height="9" fill="#00ff00"/><rect x="372" y="692" width="3" height="3" fill="#00ff00"/><rect x="388" y="689" width="3" height="3" fill="#00ff00"/><rect x="404" y="683" width="3" height="9" fill="#00ff00"/><rect x="420" y="679" width="3" height="13" fill="#00ff00"/><rect x="436" y="677" width="3" height="15" fill="#00ff00"/><rect x="452" y="674" width="3" height="18" fill="#00ff00"/><rect x="468" y="666" width="3" height="26" fill="#00ff00"/><rect x="484" y="657" width="3" height="35" fill="#00ff00"/><rect x="500" y="650" width="3" height="42" fill="#00ff00"/><rect x="516" y="645" width="3" height="47" fill="#00ff00"/><rect x="532" y="643" width="3" height="49" fill="#00ff00"/><rect x="548" y="639" width="3" height="53" fill="#00ff00"/><rect x="564" y="629" width="3" height="63" fill="#00ff00"/><rect x="580" y="628" width="3" height="64" fill="#00ff00"/><rect x="596" y="628" width="3" height="64" fill="#00ff00"/><rect x="612" y="628" width="3" height="64" fill="#00ff00"/><rect x="628" y="632" width="3" height="60" fill="#00ff00"/><rect x="644" y="629" width="3" height="63" fill="#00ff00"/><rect x="660" y="627" width="3" height="65" fill="#00ff00"/><rect x="676" y="623" width="3" height="69" fill="#00ff00"/><rect x="692" y="620" width="3" height="72" fill="#00ff00"/><rect x="708" y="618" width="3" height="74" fill="#00ff00"/><rect x="724" y="618" width="3" height="74" fill="#00ff00"/><rect x="740" y="626" width="3" height="66" fill="#00ff00"/><rect x="756" y="637" width="3" height="55" fill="#00ff00"/><rect x="772" y="647" width="3" height="45" fill="#00ff00"/><rect x="788" y="656" width="3" height="36" fill="#00ff00"/><rect x="804" y="665" width="3" height="27" fill="#00ff00"/><rect x="820" y="671" width="3" height="21" fill="#00ff00"/><rect x="836" y="682" width="3" height="10" fill="#00ff00"/><rect x="852" y="688" width="3" height="4" fill="#00ff00"/><rect x="868" y="692" width="3" height="3" fill="#00ff00"/><rect x="884" y="692" width="3" height="5" fill="#00ff00"/><rect x="900" y="692" width="3" height="6" fill="#00ff00"/><rect x="916" y="692" width="3" height="5" fill="#00ff00"/><rect x="932" y="690" width="3" height="2" fill="#00ff00"/><rect x="948" y="682" width="3" height="10" fill="#00ff00"/><rect x="964" y="677" width="3" height="15" fill="#00ff00"/><rect x="980" y="673" width="3" height="19" fill="#00ff00"/><rect x="996" y="670" width="3" height="22" fill="#00ff00"/><rect x="1012" y="667" width="3" height="25" fill="#00ff00"/><rect x="1028" y="666" width="3" height="26" fill="#00ff00"/><rect x="1044" y="662" width="3" height="30" fill="#00ff00"/><rect x="1060" y="659" width="3" height="33" fill="#00ff00"/><rect x="1076" y="656" width="3" height="36" fill="#00ff00"/><rect x="1092" y="653" width="3" height="39" fill="#00ff00"/><rect x="1108" y="653" width="3" height="39" fill="#00ff00"/><rect x="1124" y="645" width="3" height="47" fill="#00ff00"/><rect x="1140" y="637" width="3" height="55" fill="#00ff00"/><rect x="1156" y="627" width="3" height="65" fill="#00ff00"/><rect x="1172" y="620" width="3" height="72" fill="#00ff00"/><rect x="1188" y="615" width="3" height="77" fill="#00ff00"/><rect x="1204" y="614" width="3" height="78" fill="#00ff00"/><rect x="1220" y="614" width="3" height="78" fill="#00ff00"/><rect x="1236" y="608" width="3" height="84" fill="#00ff00"/><rect x="1252" y="609" width="3" height="83" fill="#00ff00"/><rect x="1268" y="611" width="3" height="81" fill="#00ff00"/><rect x="1284" y="612" width="3" height="80" fill="#00ff00"/><rect x="1300" y="615" width="3" height="77" fill="#00ff00"/><rect x="1316" y="615" width="3" height="77" fill="#00ff00"/><rect x="1332" y="624" width="3" height="68" fill="#00ff00"/><rect x="1348" y="629" width="3" height="63" fill="#00ff00"/><rect x="1364" y="631" width="3" height="61" fill="#00ff00"/><rect x="1380" y="634" width="3" height="58" fill="#00ff00"/><polyline points="5,679 21,676.5 37,672.2 53,669.6 69,665.3 85,661.3 101,658.9 117,656.9 133,654.8 149,654.2 165,653.9 181,654.8 197,656.5 213,658.5 229,661.5 245,664 261,667.5 277,670.5 293,674.5 309,679 325,684 341,687 357,691 373,693 389,694.6 405,694.6 421,694.3 437,692.3 453,689.7 469,685.6 485,680.5 501,674.9 517,669.5 533,664.6 549,659.4 565,653.4 581,648.2 597,643.3 613,639.4 629,636.2 645,633.2 661,631.4 677,629.4 693,627.3 709,626.1 725,625.2 741,625 757,625.6 773,627.2 789,629.1 805,633.6 821,639.4 837,646.5 853,653.6 869,662.6 885,670.4 901,678.1 917,683.3 933,686.9 949,688.7 965,688.8 981,688.5 997,686.5 1013,683.5 1029,680.7 1045,676.6 1061,672.3 1077,668.5 1093,665.5 1109,662.3 1125,659.2 1141,655.3 1157,651.7 1173,646.5 1189,641.4 1205,636.5 1221,631.4 1237,626.5 1253,621.4 1269,617.2 1285,615.5 1301,613.6 1317,613 1333,614.3 1349,615.3 1365,616.8 1381,619.8" fill="none" stroke="#ff0000" stroke-width="2"/></g><text x="8.2" y="615" font-size="9.7" letter-spacing="-0.1" font-family="'Liberation Sans', sans-serif" fill="#000">MACD(12,26,9) 271.38 335.01</text><g clip-path="url(#crsi)" shape-rendering="crispEdges"><line x1="6" y1="733.5" x2="1642" y2="733.5" stroke="#000" stroke-width="1" stroke-dasharray="3,3"/><line x1="6" y1="763.5" x2="1642" y2="763.5" stroke="#000" stroke-width="1" stroke-dasharray="3,3"/><line x1="6" y1="798.5" x2="1642" y2="798.5" stroke="#000" stroke-width="1" stroke-dasharray="3,3"/><polyline points="5,749.8 21,741 37,741 53,742.7 69,740.8 85,756.7 101,756.5 117,755.5 133,754.7 149,757.6 165,757.6 181,753.9 197,761 213,761 229,762.2 245,763.8 261,769.8 277,770 293,776.8 309,776.6 325,773.7 341,769.4 357,761 373,753.9 389,753 405,751.4 421,750.8 437,754.7 453,751.7 469,742 485,740.6 501,740 517,740.3 533,742.7 549,740.8 565,733.7 581,746.8 597,746.8 613,747 629,753 645,744.8 661,744.5 677,742 693,741.8 709,740.8 725,741.8 741,755.7 757,765.7 773,765.7 789,766.7 805,767.8 821,766.9 837,773.7 853,769.6 869,771.6 885,766.3 901,765.7 917,762.6 933,754.7 949,752 965,751.7 981,752.9 997,752.9 1013,752.9 1029,752.9 1045,748.9 1061,748.5 1077,747.4 1093,745.8 1109,748.9 1125,739 1141,737.2 1157,734.9 1173,734.6 1189,734.9 1205,739.8 1221,739.8 1237,734.6 1253,745.8 1269,745.8 1285,743.9 1301,747.7 1317,744.5 1333,758.8 1349,755.1 1365,753.2 1381,753.9" fill="none" stroke="#1e90ff" stroke-width="2"/></g><text x="8.2" y="724" font-size="9.7" letter-spacing="-0.1" font-family="'Liberation Sans', sans-serif" fill="#000">RSI(14) 59.1514</text><g shape-rendering="crispEdges"><rect x="4" y="25" width="1641" height="1" fill="#000"/><rect x="4" y="600" width="1641" height="1" fill="#000"/><rect x="4" y="25" width="1" height="576" fill="#000"/><rect x="1644" y="25" width="1" height="576" fill="#000"/><rect x="4" y="602" width="1641" height="1" fill="#000"/><rect x="4" y="709" width="1641" height="1" fill="#000"/><rect x="4" y="602" width="1" height="108" fill="#000"/><rect x="1644" y="602" width="1" height="108" fill="#000"/><rect x="4" y="711" width="1641" height="1" fill="#000"/><rect x="4" y="814" width="1641" height="1" fill="#000"/><rect x="4" y="711" width="1" height="104" fill="#000"/><rect x="1644" y="711" width="1" height="104" fill="#000"/><rect x="1644" y="103" width="1" height="2" fill="#ffd8b0"/><rect x="1645" y="36" width="2" height="1" fill="#000"/><rect x="1645" y="69" width="2" height="1" fill="#000"/><rect x="1645" y="102" width="2" height="1" fill="#000"/><rect x="1645" y="135" width="2" height="1" fill="#000"/><rect x="1645" y="168" width="2" height="1" fill="#000"/><rect x="1645" y="201" width="2" height="1" fill="#000"/><rect x="1645" y="234" width="2" height="1" fill="#000"/><rect x="1645" y="267" width="2" height="1" fill="#000"/><rect x="1645" y="300" width="2" height="1" fill="#000"/><rect x="1645" y="333" width="2" height="1" fill="#000"/><rect x="1645" y="366" width="2" height="1" fill="#000"/><rect x="1645" y="399" width="2" height="1" fill="#000"/><rect x="1645" y="432" width="2" height="1" fill="#000"/><rect x="1645" y="465" width="2" height="1" fill="#000"/><rect x="1645" y="498" width="2" height="1" fill="#000"/><rect x="1645" y="531" width="2" height="1" fill="#000"/><rect x="1645" y="564" width="2" height="1" fill="#000"/><rect x="1645" y="597" width="2" height="1" fill="#000"/><rect x="1645" y="604" width="1" height="1" fill="#000"/><rect x="1645" y="692" width="1" height="1" fill="#000"/><rect x="1645" y="708" width="1" height="1" fill="#000"/><rect x="1645" y="713" width="1" height="1" fill="#000"/><rect x="1645" y="814" width="1" height="1" fill="#000"/><rect x="5" y="815" width="1" height="3" fill="#000"/><rect x="69" y="815" width="1" height="3" fill="#000"/><rect x="133" y="815" width="1" height="3" fill="#000"/><rect x="197" y="815" width="1" height="3" fill="#000"/><rect x="261" y="815" width="1" height="3" fill="#000"/><rect x="325" y="815" width="1" height="3" fill="#000"/><rect x="389" y="815" width="1" height="3" fill="#000"/><rect x="453" y="815" width="1" height="3" fill="#000"/><rect x="517" y="815" width="1" height="3" fill="#000"/><rect x="581" y="815" width="1" height="3" fill="#000"/><rect x="645" y="815" width="1" height="3" fill="#000"/><rect x="709" y="815" width="1" height="3" fill="#000"/><rect x="773" y="815" width="1" height="3" fill="#000"/><rect x="837" y="815" width="1" height="3" fill="#000"/><rect x="901" y="815" width="1" height="3" fill="#000"/><rect x="965" y="815" width="1" height="3" fill="#000"/><rect x="1029" y="815" width="1" height="3" fill="#000"/><rect x="1093" y="815" width="1" height="3" fill="#000"/><rect x="1157" y="815" width="1" height="3" fill="#000"/><rect x="1221" y="815" width="1" height="3" fill="#000"/><rect x="1285" y="815" width="1" height="3" fill="#000"/><rect x="1349" y="815" width="1" height="3" fill="#000"/></g><text x="1649.2" y="40" font-size="9.7" letter-spacing="-0.1" font-family="'Liberation Sans', sans-serif" fill="#000">33925.0</text><text x="1649.2" y="73" font-size="9.7" letter-spacing="-0.1" font-family="'Liberation Sans', sans-serif" fill="#000">33721.0</text><text x="1649.2" y="106" font-size="9.7" letter-spacing="-0.1" font-family="'Liberation Sans', sans-serif" fill="#000">33517.0</text><text x="1649.2" y="139" font-size="9.7" letter-spacing="-0.1" font-family="'Liberation Sans', sans-serif" fill="#000">33319.0</text><text x="1649.2" y="172" font-size="9.7" letter-spacing="-0.1" font-family="'Liberation Sans', sans-serif" fill="#000">33115.0</text><text x="1649.2" y="205" font-size="9.7" letter-spacing="-0.1" font-family="'Liberation Sans', sans-serif" fill="#000">32917.0</text><text x="1649.2" y="238" font-size="9.7" letter-spacing="-0.1" font-family="'Liberation Sans', sans-serif" fill="#000">32713.0</text><text x="1649.2" y="271" font-size="9.7" letter-spacing="-0.1" font-family="'Liberation Sans', sans-serif" fill="#000">32509.0</text><text x="1649.2" y="304" font-size="9.7" letter-spacing="-0.1" font-family="'Liberation Sans', sans-serif" fill="#000">32311.0</text><text x="1649.2" y="337" font-size="9.7" letter-spacing="-0.1" font-family="'Liberation Sans', sans-serif" fill="#000">32107.0</text><text x="1649.2" y="370" font-size="9.7" letter-spacing="-0.1" font-family="'Liberation Sans', sans-serif" fill="#000">31909.0</text><text x="1649.2" y="403" font-size="9.7" letter-spacing="-0.1" font-family="'Liberation Sans', sans-serif" fill="#000">31705.0</text><text x="1649.2" y="436" font-size="9.7" letter-spacing="-0.1" font-family="'Liberation Sans', sans-serif" fill="#000">31507.0</text><text x="1649.2" y="469" font-size="9.7" letter-spacing="-0.1" font-family="'Liberation Sans', sans-serif" fill="#000">31303.0</text><text x="1649.2" y="502" font-size="9.7" letter-spacing="-0.1" font-family="'Liberation Sans', sans-serif" fill="#000">31099.0</text><text x="1649.2" y="535" font-size="9.7" letter-spacing="-0.1" font-family="'Liberation Sans', sans-serif" fill="#000">30901.0</text><text x="1649.2" y="568" font-size="9.7" letter-spacing="-0.1" font-family="'Liberation Sans', sans-serif" fill="#000">30697.0</text><text x="1649.2" y="601" font-size="9.7" letter-spacing="-0.1" font-family="'Liberation Sans', sans-serif" fill="#000">30499.0</text><rect x="1646" y="25" width="41" height="11" fill="#ff0000" shape-rendering="crispEdges"/><text x="1649.2" y="34" font-size="9.7" letter-spacing="-0.1" font-family="'Liberation Sans', sans-serif" fill="#fff">33950.5</text><rect x="1646" y="56" width="41" height="11" fill="#ff0000" shape-rendering="crispEdges"/><text x="1649.2" y="65" font-size="9.7" letter-spacing="-0.1" font-family="'Liberation Sans', sans-serif" fill="#fff">33763.1</text><rect x="1646" y="98" width="41" height="11" fill="#ff8c00" shape-rendering="crispEdges"/><text x="1649.2" y="107" font-size="9.7" letter-spacing="-0.1" font-family="'Liberation Sans', sans-serif" fill="#fff">33507.9</text><rect x="1646" y="109" width="41" height="11" fill="#000" shape-rendering="crispEdges"/><text x="1649.2" y="118" font-size="9.7" letter-spacing="-0.1" font-family="'Liberation Sans', sans-serif" fill="#fff">33448.2</text><rect x="1646" y="140" width="41" height="11" fill="#0000ff" shape-rendering="crispEdges"/><text x="1649.2" y="149" font-size="9.7" letter-spacing="-0.1" font-family="'Liberation Sans', sans-serif" fill="#fff">33250.1</text><rect x="1646" y="173" width="41" height="11" fill="#0000ff" shape-rendering="crispEdges"/><text x="1649.2" y="182" font-size="9.7" letter-spacing="-0.1" font-family="'Liberation Sans', sans-serif" fill="#fff">33051.0</text><text x="1648" y="613" font-size="9.7" letter-spacing="-0.1" font-family="'Liberation Sans', sans-serif" fill="#000">411.38</text><text x="1648" y="696" font-size="9.7" letter-spacing="-0.1" font-family="'Liberation Sans', sans-serif" fill="#000">0.00</text><text x="1648" y="706" font-size="9.7" letter-spacing="-0.1" font-family="'Liberation Sans', sans-serif" fill="#000">-78.19</text><text x="1648" y="722" font-size="9.7" letter-spacing="-0.1" font-family="'Liberation Sans', sans-serif" fill="#000">100</text><text x="1648" y="737" font-size="9.7" letter-spacing="-0.1" font-family="'Liberation Sans', sans-serif" fill="#000">80</text><text x="1648" y="767" font-size="9.7" letter-spacing="-0.1" font-family="'Liberation Sans', sans-serif" fill="#000">50</text><text x="1648" y="802" font-size="9.7" letter-spacing="-0.1" font-family="'Liberation Sans', sans-serif" fill="#000">15</text><text x="1648" y="812" font-size="9.7" letter-spacing="-0.1" font-family="'Liberation Sans', sans-serif" fill="#000">0</text><text x="4" y="827" font-size="9.7" letter-spacing="-0.1" font-family="'Liberation Sans', sans-serif" fill="#000">26 May 2023</text><text x="68" y="827" font-size="9.7" letter-spacing="-0.1" font-family="'Liberation Sans', sans-serif" fill="#000">28 May 23:30</text><text x="132" y="827" font-size="9.7" letter-spacing="-0.1" font-family="'Liberation Sans', sans-serif" fill="#000">29 May 14:55</text><text x="196" y="827" font-size="9.7" letter-spacing="-0.1" font-family="'Liberation Sans', sans-serif" fill="#000">30 May 10:55</text><text x="260" y="827" font-size="9.7" letter-spacing="-0.1" font-family="'Liberation Sans', sans-serif" fill="#000">31 May 00:00</text><text x="324" y="827" font-size="9.7" letter-spacing="-0.1" font-family="'Liberation Sans', sans-serif" fill="#000">31 May 18:55</text><text x="388" y="827" font-size="9.7" letter-spacing="-0.1" font-family="'Liberation Sans', sans-serif" fill="#000">1 Jun 10:55</text><text x="452" y="827" font-size="9.7" letter-spacing="-0.1" font-family="'Liberation Sans', sans-serif" fill="#000">2 Jun 00:00</text><text x="516" y="827" font-size="9.7" letter-spacing="-0.1" font-family="'Liberation Sans', sans-serif" fill="#000">2 Jun 18:55</text><text x="580" y="827" font-size="9.7" letter-spacing="-0.1" font-family="'Liberation Sans', sans-serif" fill="#000">5 Jun 10:55</text><text x="644" y="827" font-size="9.7" letter-spacing="-0.1" font-family="'Liberation Sans', sans-serif" fill="#000">6 Jun 00:00</text><text x="708" y="827" font-size="9.7" letter-spacing="-0.1" font-family="'Liberation Sans', sans-serif" fill="#000">6 Jun 18:55</text><text x="772" y="827" font-size="9.7" letter-spacing="-0.1" font-family="'Liberation Sans', sans-serif" fill="#000">7 Jun 09:00</text><text x="836" y="827" font-size="9.7" letter-spacing="-0.1" font-family="'Liberation Sans', sans-serif" fill="#000">8 Jun 00:00</text><text x="900" y="827" font-size="9.7" letter-spacing="-0.1" font-family="'Liberation Sans', sans-serif" fill="#000">8 Jun 18:55</text><text x="964" y="827" font-size="9.7" letter-spacing="-0.1" font-family="'Liberation Sans', sans-serif" fill="#000">9 Jun 10:55</text><text x="1028" y="827" font-size="9.7" letter-spacing="-0.1" font-family="'Liberation Sans', sans-serif" fill="#000">12 Jun 00:00</text><text x="1092" y="827" font-size="9.7" letter-spacing="-0.1" font-family="'Liberation Sans', sans-serif" fill="#000">12 Jun 18:55</text><text x="1156" y="827" font-size="9.7" letter-spacing="-0.1" font-family="'Liberation Sans', sans-serif" fill="#000">13 Jun 10:55</text><text x="1220" y="827" font-size="9.7" letter-spacing="-0.1" font-family="'Liberation Sans', sans-serif" fill="#000">14 Jun 00:00</text><text x="1284" y="827" font-size="9.7" letter-spacing="-0.1" font-family="'Liberation Sans', sans-serif" fill="#000">14 Jun 18:55</text><text x="1348" y="827" font-size="9.7" letter-spacing="-0.1" font-family="'Liberation Sans', sans-serif" fill="#000">15 Jun 10:55</text></svg>
</body></html>
